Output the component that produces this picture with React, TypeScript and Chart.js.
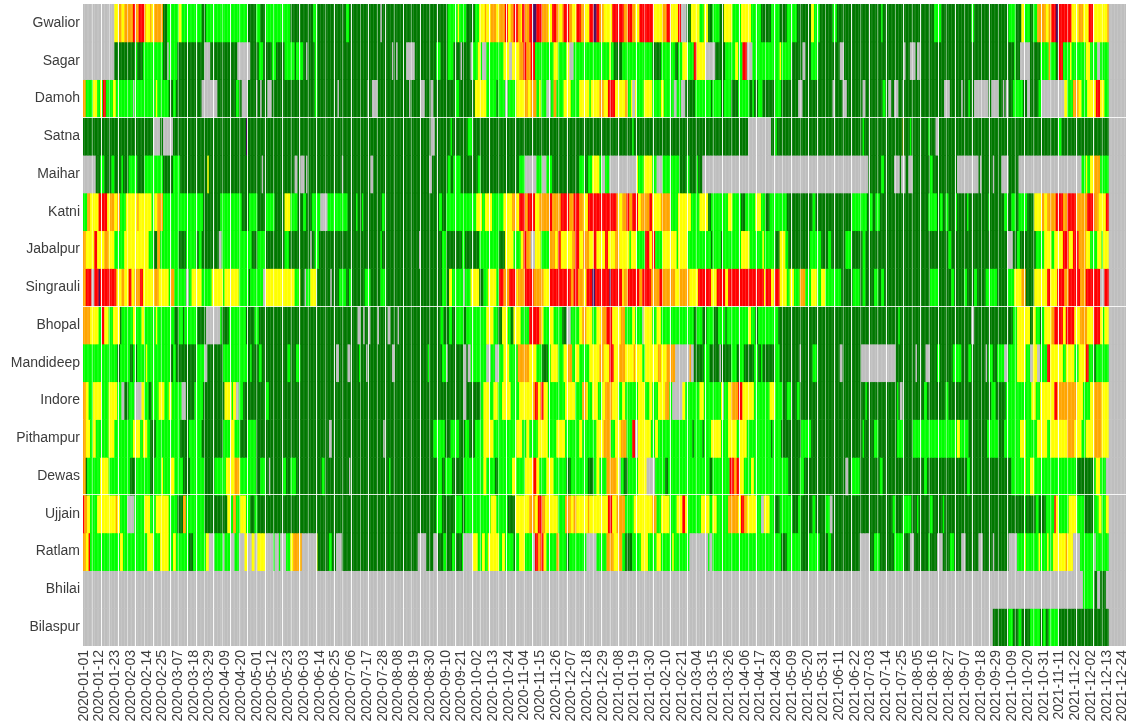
import React, { useEffect, useRef } from "react";
import { Chart, registerables } from "chart.js";

Chart.register(...registerables);

const stations = ["Gwalior","Sagar","Damoh","Satna","Maihar","Katni","Jabalpur","Singrauli","Bhopal","Mandideep","Indore","Pithampur","Dewas","Ujjain","Ratlam","Bhilai","Bilaspur"];

const tickDates = ["2020-01-01","2020-01-12","2020-01-23","2020-02-03","2020-02-14","2020-02-25","2020-03-07","2020-03-18","2020-03-29","2020-04-09","2020-04-20","2020-05-01","2020-05-12","2020-05-23","2020-06-03","2020-06-14","2020-06-25","2020-07-06","2020-07-17","2020-07-28","2020-08-08","2020-08-19","2020-08-30","2020-09-10","2020-09-21","2020-10-02","2020-10-13","2020-10-24","2020-11-04","2020-11-15","2020-11-26","2020-12-07","2020-12-18","2020-12-29","2021-01-08","2021-01-19","2021-01-30","2021-02-10","2021-02-21","2021-03-04","2021-03-15","2021-03-26","2021-04-06","2021-04-17","2021-04-28","2021-05-09","2021-05-20","2021-05-31","2021-06-11","2021-06-22","2021-07-03","2021-07-14","2021-07-25","2021-08-05","2021-08-16","2021-08-27","2021-09-07","2021-09-18","2021-09-29","2021-10-09","2021-10-20","2021-10-31","2021-11-11","2021-11-22","2021-12-02","2021-12-13","2021-12-24"];

// AQI class by letter: g good, l satisfactory, y moderate, o poor, r very poor, p severe, x no data
const classColors: Record<string, string> = { g: "#007800", l: "#00ff00", y: "#ffff00", o: "#ffa500", r: "#ff0000", p: "#4b0f5f", x: "#bebebe" };

// Each station: runs of class + days, in four consecutive stretches of the period
const gwalior = [
  "x22 y3 o2 y2 o6 r2 o1 r4 o1 y3 o1 y2 o6 g3 l8 y2 l14 g3 l28 g6 l3 g4 l17 g7",
  "g9 l3 g19 l2 g22 x1 g44 l7 y1 l5 g6 l3 y4 o1 y3 o3 y2 o4 r2 y2 o2 r3 o2 y1 r2 o3 r2 p3 r4 o4 y2 r3 o2 y2 o1 r4 o2 y3 r2",
  "r1 o3 y3 r3 p2 r2 o3 y6 r7 o3 r3 o2 y3 r10 y6 o3 r3 y5 r2 x3 g3 y6 l3 y3 g3 l5 g3 y6 l6 y7 l6 g7 l6 g5 l7 g10 y2 l4 g8 l3 g16",
  "g15 l1 g36 l5 g21 l2 g23 l5 g4 y2 l4 g2 l3 o6 y2 o2 r3 p2 r9 y5 o3 y4 r3 y10 o1",
];
const sagar = [
  "x21 g15 l1 g4 l14 g2 x1 l6 g19 x4 g18 x9 g6 l3 g6 l2 g6 l7 g1 l3",
  "l2 g2 x1 g5 l2 g52 x1 g2 x1 g6 x6 g15 l3 g5 l4 g5 x1 g6 x1 l4 y2 l1 x3 l12 y4 x2 y5 o3 r2 o3 r3 l13 y3 l6 y2 x3 l4",
  "l20 y1 l2 g6 l13 l8 g6 l9 g2 l3 y4 l4 r2 y6 x7 g6 l7 y2 l3 r3 x4 l18 y1 l7 g8 x2 g4 l5 g14 x3 g11",
  "g31 x1 g3 x4 g1 x2 g65 l1 g3 x7 g7 l5 o1 l4 g2 r3 l5 y1 l3 l3 l4 y3 l5 x2 l6",
];
const damoh = [
  "o2 l5 y3 l1 y1 l1 r2 l5 y2 l11 x1 l6 l9 y1 l7 g3 l2 g17 x11 g12 l2 g2 x4 g5 x1 g2 x1 g4 x3 g7 g12",
  "g10 l2 g13 x1 g19 x1 g2 x4 g21 x1 g7 x3 g4 x2 g14 l3 g3 g8 y7 l7 g1 l5 x2 l6 y5 o2 y2 o4 l2 y1 l4 x3 l2 o2 l4 y5 l6",
  "y7 l1 y6 o3 y3 r5 y7 o1 l2 y1 x2 y1 l5 y6 l6 y2 l7 x2 l3 x3 g7 l4 l7 g1 l5 g2 l5 g5 l8 g2 l1 g3 l3 g9 l4 g12 x3 g3 g5 g12 x1 g6 x3 g9",
  "g2 x2 g12 l1 g2 x2 g2 x3 g3 x1 g27 x4 g8 x1 g4 l1 g3 x9 g2 x3 x2 g3 x1 g1 x2 g3 l7 g3 x2 g5 l2 x16 y2 l4 o4 y2 l3 y6 r3 y3 l3",
];
const satna = [
  "g49 x5 g2 x7 g50 p1 g37",
  "g91 x3 g12 l1 g11 l3 g75",
  "g37 l1 g79 x16 g3 l1 g58",
  "g2 l1 g27 o1 g4 l1 g11 l1 g4 x2 g83 l2 g33",
];
const maihar = [
  "x9 g3 l3 g5 l2 g5 l1 g4 l6 g5 l7 l6 g7 l5 g19 y1 g37 x1 g22 x2 g2",
  "x3 g1 x1 g24 x1 g19 x2 g39 x2 g12 l2 g2 l5 g12 l2 g27 l4 x8 l4 x3 l2 l2 g19",
  "l4 g2 l3 y5 l2 x2 l3 x19 y1 l4 y6 l3 x4 l12 g5 l2 g5 l1 g3 x111",
  "x6 g9 l2 g7 x4 g1 x3 g2 x3 g12 l2 g17 x15 g1 x1 g9 x1 g5 x5 g7 x44 l3 y1 l2 y3 o4 l6",
];
const katni = [
  "l3 o2 y6 r6 y2 o3 y2 o2 l4 y8 o1 y9 l2 y2 o4 l27 g12 l15 g5 l6 g6 l6 g7 y4 l5 g2",
  "g2 l2 g4 l6 x5 l2 l11 g6 l1 g3 l1 g13 l2 g37 l2 g3 l20 y4 l2 y5 l8 y6 o3 y2 r4 o2 r5 y3 o6 r2 o6 r6 o3 r4",
  "o3 y3 r19 o2 y2 o3 r2 o2 r4 y2 o6 r2 y6 o7 l5 y8 l6 y6 g2 l12 y3 l6 g3 l6 y4 l3 g3 l12 g18 l2 g24 l6",
  "l5 g2 l2 g2 l3 g34 l6 g2 l2 g2 l2 g5 l1 g7 l1 g13 l1 g10 l2 g3 l3 g2 l6 g5 y5 o2 y2 o6 r5 o3 r6 o5 o3 r5 o3 y5 r2",
];
const jabalpur = [
  "o2 y6 r2 y5 o3 y4 l7 y6 y10 l3 g3 o2 l13 g5 l7 g2 l2 g12 x2 l20 g4 l6 g13 l3 g8",
  "g7 x1 g2 l3 g43 l1 g26 x1 g15 l3 g11 l2 g10 l14 g4 y6 l5 y2 r2 o3 x3 y4 l6 o4 y2 r2 y8 o2 r3",
  "y3 r1 o3 y3 r2 y6 r2 y5 o3 y7 l1 y4 l6 r3 y2 r2 l5 y10 l1 y7 l16 g1 l5 g1 l13 y6 l3 l6 y1 l8 g3 y4 l2 g15 l8 g5 l2 g10 l4 g6",
  "g2 l2 g50 g7 l2 g38 x4 g3 l2 g11 l6 y5 l2 y6 r3 y3 r4 o5 y3 l5 y3 l1 y4",
];
const singrauli = [
  "o2 r4 x2 r3 p1 r1 r9 o1 y3 o2 y3 r2 y2 o3 r2 y3 y5 o3 y7 l1 o2 l8 x2 l2 y7 l6 y8 l1 y7 y3 l6 g1 l2 l7 x2 y12 y7 l3 y1",
  "g3 x1 l3 y4 g10 x1 g5 l5 g2 l2 g9 l4 g7 l4 g39 l3 g2 y2 l8 x1 l4 y6 g3 l3 y6 l2 r3 o4 r5 y1 o5 r6 o7 y4 r8 r7 o2 r3 o1",
  "o3 y2 r4 p2 r9 p1 r8 y1 o3 r7 o2 r6 o6 r2 o8 y3 o7 y6 r8 y4 r6 y2 r12 r12 y1 r4 y1 r4 y5 l2 y3 l4 o4 l3 y4 l3 y3 l11 g7 l5",
  "g2 l2 g6 l3 g2 l2 g32 l6 g9 l2 g7 l2 g5 l2 g5 l8 g7 l5 y5 o3 g6 y9 r2 y5 r5 o3 r8 o4 r10 x3 r3",
];
const bhopal = [
  "o5 y6 l2 r2 y3 l3 y4 g1 l8 y2 l4 y2 l8 y1 l12 g3 l3 g1 l8 g6 x10 l1 g5 l12 g6 l3 g4 g12 g12",
  "g40 x2 g2 x1 g3 x1 g5 x1 g6 x2 g5 x1 g29 l2 g4 l2 g3 l5 g2 l7 l7 y5 l3 g3 y4 l2 g2 y5 l6 r7 o2 y1 l4 y3 l6 g3 x3 l6",
  "y2 o3 y4 l3 y3 o4 r4 y5 o3 l5 y2 l5 x1 y6 l3 y3 l22 g2 l4 g3 l5 g3 l5 g1 l15 y2 l2 g2 l14 g56",
  "g26 l1 g48 x2 g26 l3 y8 g2 y2 l3 g1 l2 y5 o2 r5 y2 r6 y4 o5 y3 r3 r2 y2 l1 y3",
];
const mandideep = [
  "l24 g2 l7 g2 l2 g1 l6 y1 l16 g2 l2 g13 l6 x2 g11 l17 g2 l1 g5 l2 g4 g14 l2 g4 l3",
  "g24 x2 g6 x2 g5 l1 g4 x1 g16 x2 g22 l1 g9 l3 x1 g10 x2 g1 x2 l11 x3 l2 x3 l3 y4 l6 o7 y5 l4 g4 l2 y5 l3 y3 o3 l2 y3",
  "l7 y7 o2 y4 r3 y4 o4 y6 o1 y5 l2 y8 o2 y4 o6 x10 o1 x2 g6 l4 g7 x1 g7 l4 g2 l2 g7 l3 g2 l1 g9 l3 g13 x1 g8 l3 g15 x2 g12",
  "g1 x23 g14 x1 g6 x3 g4 l2 g9 l6 g5 l2 g9 x1 g1 l3 g3 l5 x2 g1 l6 y6 l3 x2 y2 x2 l5 r2 y9 l2 y6 l3 y4 r2 l3 g2 l9",
];
const indore = [
  "o2 y2 l3 y5 l5 y6 l3 x2 g3 l3 x5 y2 l3 g2 l5 y3 l3 y2 l7 x3 g5 l6 g14 y5 l1 y2 x2 l3 g15 l2 g21",
  "g114 x2 g6 g4 l2 y4 l3 y3 l3 y6 l6 y9 o2 r2 y2 r2 y3 l4 l8 y7 l3",
  "l2 o3 y1 l3 y3 l3 y2 o5 y4 l3 y2 l8 y5 l3 y2 l4 y5 o2 l2 x7 y2 l10 y2 l12 y1 x1 l3 y2 o4 r3 y2 y6 l11 y3 l5 g3 l3 g4 l2 g40",
  "g4 l1 g21 l1 g1 x2 g14 l2 g13 l2 g30 l3 g7 l18 y3 l3 y6 y3 r2 o8 o6 y4 l5 y3 o5 y5",
];
const pithampur = [
  "o2 y3 l2 y2 l9 y3 l13 y5 l2 y3 l2 g4 l16 g6 l9 g14 l5 y3 l4 g5 l6 g30",
  "g20 x2 g36 x1 g34 l7 g4 l6 g4 l3 g4 l6 y7 l8 l8 y4 l3 y2 l6 y7 l6 y6 l10",
  "y2 l10 y5 o5 l3 y4 o4 l4 r2 x2 y9 l3 y2 l5 l19 g1 l6 g1 l5 y6 l5 y6 l2 y5 l17 g1 l6 g14 l7 g7 g27",
  "g2 l1 g7 l3 g13 l5 g6 l27 l3 y2 l2 l4 g13 l8 g4 l11 y4 l8 y6 l2 y7 y5 o5 y5 l3 y6 o5 y5",
];
const dewas = [
  "o2 g1 l5 l4 y6 l15 g4 l9 g3 l5 y1 l5 y3 l6 g5 l10 g7 l8 y6 o3 y1 l10 g3 l4 g2 x1 g9 l2 g3 l4 g3",
  "g15 l2 g17 x1 g27 l1 g33 l3 g2 l5 g8 l14 y2 l6 g2 l10 y3 l6 y5 o1 r2 y2 l5 y5 l9 g3 l6",
  "l6 g4 l2 y2 l4 o7 y2 x1 l2 g3 l7 y6 x5 l7 g2 l10 l18 g2 l12 r3 o2 r2 y2 l5 y2 l24 g7 l3 g28 x2 g2 l6",
  "g14 l2 g28 l2 g28 l2 g29 l3 l6 y1 l3 y3 l14 l4 l11 g12 l1 y3 l4 x2",
];
const ujjain = [
  "r1 o2 y2 l5 y13 o1 y2 l5 x5 l7 y4 l4 y9 l6 g4 o2 l13 g16 y2 l2 o2 l3 y4 l3 g3 l2 g30",
  "g95 l3 g9 l5 g2 l18 y4 l8 g5 y10 o4 y2 r3 o2 y9 l5 o4 y2 o2 y2",
  "y6 o1 y12 r3 y3 o6 l5 y5 y8 o3 l3 y5 l5 y4 r2 y2 l9 y5 l2 y3 l8 o6 y2 r2 o2 y7 l3 x2 y4 l2 g4 l9 g4 l2 g7 l2 g7 l3 x2 g18",
  "g23 l2 g4 l6 g4 l1 g8 l2 g7 l1 g3 g41 g11 l1 g7 l2 g5 l6 r1 y2 l6 y6 l5 g7 l3 y2 l3 y2",
];
const ratlam = [
  "o2 y2 r1 l3 l16 y2 l4 l12 y4 l5 y5 l3 y2 l9 g2 l9 y2 x4 l5 x1 l4 x3 l3 x3 y2 x3 y2 x2 y5 x5 l1 x3 l1 x4 l2 y2 o4 y1",
  "o1 x10 y1 g7 l2 g3 x4 g52 x6 g5 x3 g3 l2 g4 l2 g5 l1 x6 y4 l3 y2 l2 y7 l2 y2 l6 g1 l3 y4 l5 x2 r2 o2 r2 y2 l6 o2 l5 g2 l7",
  "l5 x7 l7 o5 y3 o3 l2 g4 l6 y5 l6 y3 l8 y1 l11 x13 l1 x2 l47 g4 l10 g5 l7 g6 l2 g20",
  "x7 g3 l4 g9 l7 g4 x3 g10 l1 g5 x4 g5 l2 g5 x3 g9 x3 g7 x1 g10 x5 l5 y1 l9 y1 l5 y1 l3 y5 y4 o1 y4 x4 l10 x1 l9",
];
const bhilai = ["x152", "x195", "x196", "x155 l7 x1 g2 x2 g4 x2"];
const bilaspur = ["x152", "x195", "x196", "x90 g11 l3 g1 g3 l2 g6 l6 g2 l2 g2 l7 g5 g29"];

const stationRuns = [gwalior, sagar, damoh, satna, maihar, katni, jabalpur, singrauli, bhopal, mandideep, indore, pithampur, dewas, ujjain, ratlam, bhilai, bilaspur];

const stretchDays = [152, 195, 196, 174];
const trailingGapDays = 12;
const totalDays = 729;

function expand(stretches: string[]): string[] {
  const out: string[] = [];
  stretches.forEach((s, b) => {
    const runs = s.trim().split(/\s+/).map((t) => ({ c: t[0], n: parseInt(t.slice(1), 10) }));
    const sum = runs.reduce((a, r) => a + r.n, 0);
    const start = out.length;
    let cum = 0;
    runs.forEach((r) => {
      cum += r.n;
      const end = start + Math.round((cum / sum) * stretchDays[b]);
      while (out.length < end) out.push(r.c);
    });
  });
  for (let i = 0; i < trailingGapDays; i++) out.push("x");
  return out;
}

const SEAM_PX = 8.7;
const PLOT_LEFT = 83;
const PLOT_RIGHT = 1126;
const SEAM_ORIGIN = 84;

export default function App() {
  const ref = useRef<HTMLCanvasElement | null>(null);
  useEffect(() => {
    const labels: string[] = [];
    for (let i = 0; i < totalDays; i++) labels.push(i % 11 === 0 && tickDates[i / 11] ? tickDates[i / 11] : "");
    const datasets = stationRuns.map((runs, r) => {
      const days = expand(runs);
      return {
        label: stations[r],
        data: days.map(() => [r, r + 1.012]),
        backgroundColor: days.map((c) => classColors[c]),
        borderWidth: 0,
        grouped: false,
        categoryPercentage: 1,
        barPercentage: 1.2,
        xAxisID: "x",
        yAxisID: "y",
      };
    });
    const font = { family: "'Liberation Sans', Arial, sans-serif", size: 14 };
    const noPad = (s: any) => { s.paddingLeft = 0; s.paddingRight = 0; s.paddingTop = 0; s.paddingBottom = 0; };
    const chart = new Chart(ref.current as HTMLCanvasElement, {
      type: "bar",
      data: { labels, datasets: datasets as any },
      options: {
        animation: false,
        responsive: false,
        layout: { padding: { top: 4, left: 0, right: 0, bottom: 0 } },
        plugins: { legend: { display: false }, tooltip: { enabled: false } },
        scales: {
          x: {
            type: "category",
            position: "bottom",
            grid: { display: false, drawTicks: false },
            border: { display: false },
            ticks: { autoSkip: false, minRotation: 90, maxRotation: 90, padding: 4, color: "#3c3c3c", font },
            afterFit: (s: any) => { s.height = 79; noPad(s); },
          },
          seams: {
            type: "linear",
            position: "bottom",
            min: (PLOT_LEFT - SEAM_ORIGIN) / SEAM_PX,
            max: (PLOT_RIGHT - SEAM_ORIGIN) / SEAM_PX,
            border: { display: false },
            ticks: { display: false, stepSize: 1, autoSkip: false },
            grid: {
              z: 1,
              drawTicks: false,
              lineWidth: 1,
              color: (ctx: any) => {
                const k = ctx.tick?.value;
                if (!Number.isInteger(k)) return "rgba(255,255,255,0)";
                const odd = k % 2 === 1;
                const strong = k < 13 ? !odd : k < 50 ? odd : k < 85 ? !odd : odd;
                return strong ? "rgba(255,255,255,0.9)" : "rgba(255,255,255,0.42)";
              },
            },
            afterFit: (s: any) => { s.height = 0; noPad(s); },
          },
          y: {
            type: "linear",
            reverse: true,
            min: 0,
            max: 17,
            grid: { display: false, drawTicks: false },
            border: { display: false },
            afterBuildTicks: (s: any) => { s.ticks = stations.map((_, i) => ({ value: i + 0.5 })); },
            ticks: {
              autoSkip: false,
              padding: 3,
              color: "#3c3c3c",
              font,
              callback: (v: any) => stations[Math.floor(Number(v))],
            },
            afterFit: (s: any) => { s.width = PLOT_LEFT; noPad(s); },
          },
          rowSeams: {
            type: "linear",
            position: "left",
            reverse: true,
            min: 0,
            max: 17,
            border: { display: false },
            afterBuildTicks: (s: any) => { s.ticks = [3, 8, 13].map((value) => ({ value })); },
            ticks: { display: false },
            grid: { z: 1, drawTicks: false, color: "rgba(255,255,255,0.85)", lineWidth: 1 },
            afterFit: (s: any) => { s.width = 0; noPad(s); },
          },
        },
      } as any,
    });
    return () => chart.destroy();
  }, []);
  return <canvas ref={ref} width={1126} height={725} style={{ position: "absolute", left: 0, top: 0, display: "block" }} />;
}
